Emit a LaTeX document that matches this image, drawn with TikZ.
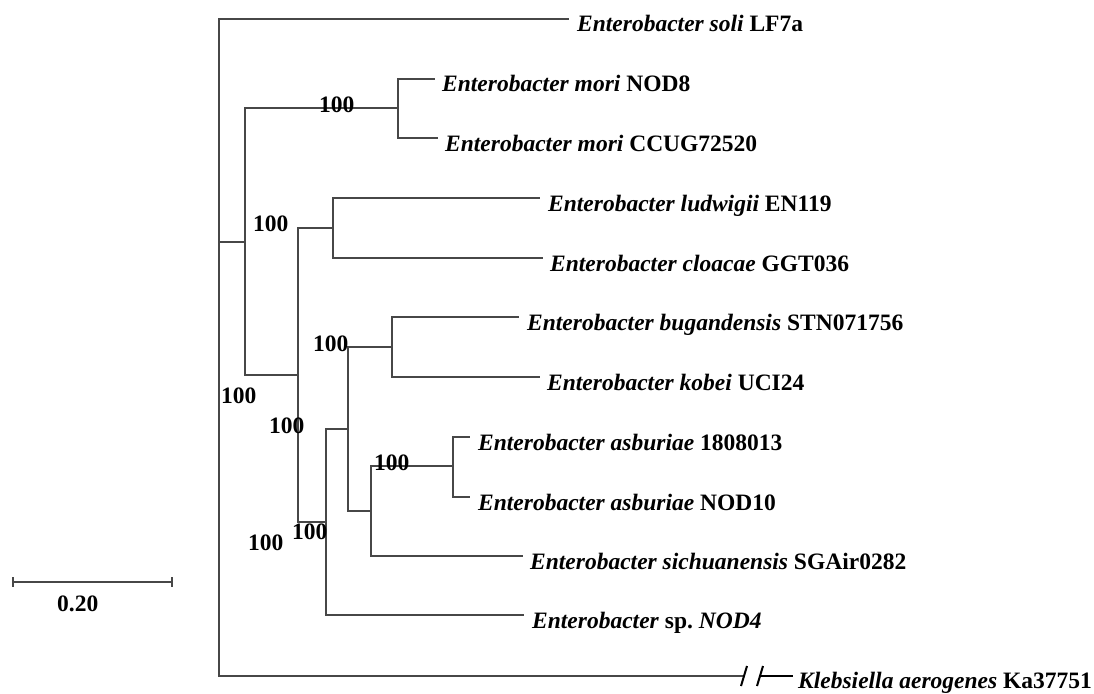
\documentclass[tikz,border=0pt]{standalone}
\usepackage{fontspec}
\setmainfont{Liberation Serif}
\frenchspacing
\begin{document}
\begin{tikzpicture}[x=1pt,y=-1pt,
  branch/.style={draw=black!72,line width=1.3pt},
  brk/.style={draw=black,line width=2pt},
  leaf/.style={inner sep=0pt,anchor=base west,font=\fontsize{23.5}{28}\selectfont\bfseries},
  boot/.style={inner sep=0pt,anchor=base west,font=\fontsize{23.5}{28}\selectfont\bfseries}]
\useasboundingbox (0,0) rectangle (1094,693);
% internal nodes
\coordinate (R) at (219,242);
\coordinate (A) at (245,242);
\coordinate (M) at (398,108);
\coordinate (B) at (298,375);
\coordinate (C) at (333,228);
\coordinate (D) at (326,522);
\coordinate (E) at (348,429);
\coordinate (F) at (392,347);
\coordinate (G) at (371,511);
\coordinate (H) at (453,466);
% tips
\coordinate (tsoli) at (569,19);
\coordinate (tnod8) at (435,79);
\coordinate (tccug) at (438,138);
\coordinate (tlud) at (540,198);
\coordinate (tclo) at (543,258);
\coordinate (tbug) at (519,317);
\coordinate (tkob) at (540,377);
\coordinate (tasa) at (470,437);
\coordinate (tasb) at (470,497);
\coordinate (tsich) at (523,556);
\coordinate (tnod4) at (524,615);
\coordinate (kb1) at (744,676);
\coordinate (kb2) at (760,676);
\coordinate (tkleb) at (793,676);
% branches
\draw[branch] (R) |- (tsoli);
\draw[branch] (R) |- (kb1);
\draw[branch] (R) -- (A);
\draw[branch] (A) |- (M);
\draw[branch] (A) |- (B);
\draw[branch] (M) |- (tnod8);
\draw[branch] (M) |- (tccug);
\draw[branch] (B) |- (C);
\draw[branch] (B) |- (D);
\draw[branch] (C) |- (tlud);
\draw[branch] (C) |- (tclo);
\draw[branch] (D) |- (E);
\draw[branch] (D) |- (tnod4);
\draw[branch] (E) |- (F);
\draw[branch] (E) |- (G);
\draw[branch] (F) |- (tbug);
\draw[branch] (F) |- (tkob);
\draw[branch] (G) |- (H);
\draw[branch] (G) |- (tsich);
\draw[branch] (H) |- (tasa);
\draw[branch] (H) |- (tasb);
% break
\draw[brk] ([shift={(-3,10)}]kb1) -- ([shift={(3,-10)}]kb1);
\draw[brk] ([shift={(-3,10)}]kb2) -- ([shift={(3,-10)}]kb2);
\draw[brk,line width=1.6pt] (kb2) -- (tkleb);
% leaf labels
\node[leaf] (lsoli) at ([shift={(8,13)}]tsoli) {\textit{Enterobacter soli} LF7a};
\node[leaf] (lnod8) at ([shift={(7,13)}]tnod8) {\textit{Enterobacter mori} NOD8};
\node[leaf] (lccug) at ([shift={(7,13)}]tccug) {\textit{Enterobacter mori} CCUG72520};
\node[leaf] (llud) at ([shift={(8,13)}]tlud) {\textit{Enterobacter ludwigii} EN119};
\node[leaf] (lclo) at ([shift={(7,13)}]tclo) {\textit{Enterobacter cloacae} GGT036};
\node[leaf] (lbug) at ([shift={(8,13)}]tbug) {\textit{Enterobacter bugandensis} STN071756};
\node[leaf] (lkob) at ([shift={(7,13)}]tkob) {\textit{Enterobacter kobei} UCI24};
\node[leaf] (lasa) at ([shift={(8,13)}]tasa) {\textit{Enterobacter asburiae} 1808013};
\node[leaf] (lasb) at ([shift={(8,13)}]tasb) {\textit{Enterobacter asburiae} NOD10};
\node[leaf] (lsich) at ([shift={(7,13)}]tsich) {\textit{Enterobacter sichuanensis} SGAir0282};
\node[leaf] (lnod4) at ([shift={(8,13)}]tnod4) {\textit{Enterobacter} sp.\ \textit{NOD4}};
\node[leaf] (lkleb) at ([shift={(5,12)}]tkleb) {\textit{Klebsiella aerogenes} Ka37751};
% bootstrap values
\node[boot] (b1) at (319,112) {100};
\node[boot] (b2) at (253,231) {100};
\node[boot] (b3) at (313,351) {100};
\node[boot] (b4) at (221,403) {100};
\node[boot] (b5) at (269,433) {100};
\node[boot] (b6) at (374,470) {100};
\node[boot] (b7) at (292,539) {100};
\node[boot] (b8) at (248,550) {100};
% scale bar
\coordinate (s1) at (13,582);
\coordinate (s2) at (172,582);
\draw[branch] (s1) -- (s2);
\draw[branch] ([yshift=5pt]s1) -- ([yshift=-5pt]s1);
\draw[branch] ([yshift=5pt]s2) -- ([yshift=-5pt]s2);
\node[boot] (scale) at (57,611) {0.20};
\end{tikzpicture}
\end{document}
